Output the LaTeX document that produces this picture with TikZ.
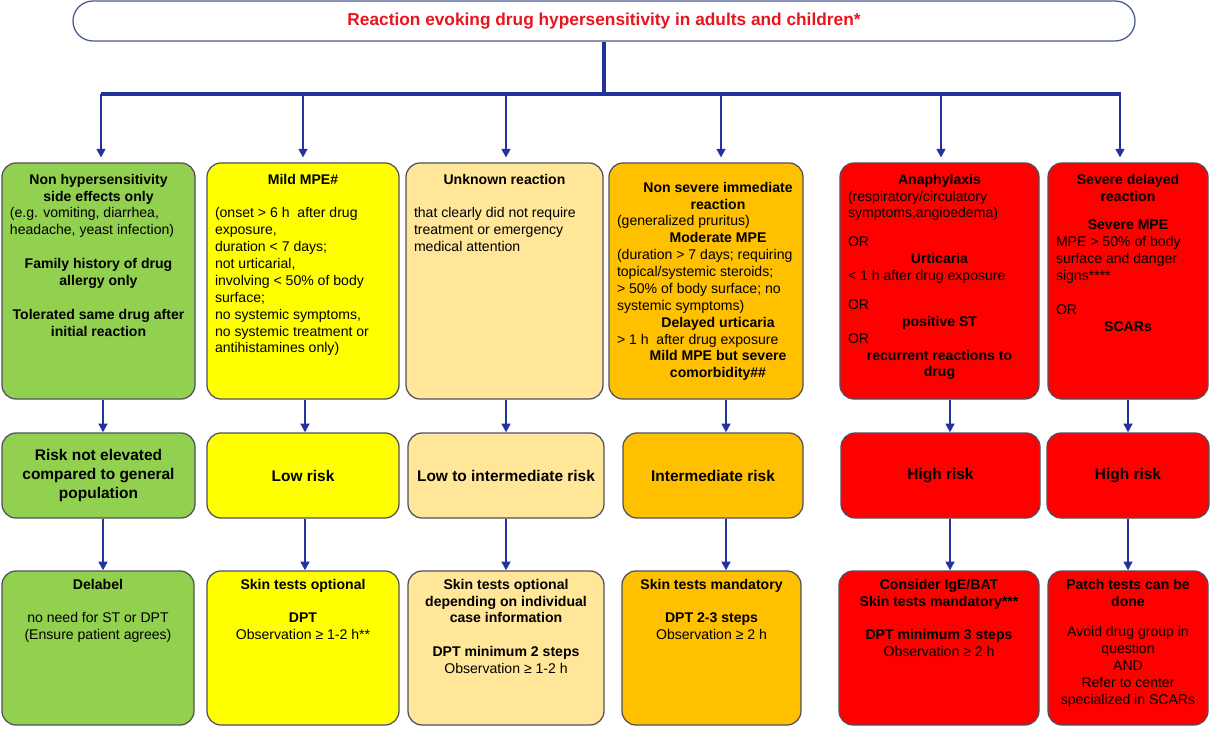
\documentclass[tikz,border=0pt]{standalone}
\usepackage{fontspec}
\setmainfont{Liberation Sans}
\usetikzlibrary{arrows.meta}

\definecolor{grn}{HTML}{92D050}
\definecolor{ylw}{HTML}{FFFF00}
\definecolor{sand}{HTML}{FFE699}
\definecolor{amber}{HTML}{FFC000}
\definecolor{alarm}{HTML}{FF0000}
\definecolor{navy}{HTML}{2233A0}
\definecolor{edge}{HTML}{505060}
\definecolor{titleedge}{HTML}{4A5A90}
\definecolor{titlered}{HTML}{E8141E}

\newcommand{\ctrpar}[2][0pt]{{\centering\leftskip=#1 plus 1fil\relax #2\par}}
\newcommand{\lftpar}[1]{{\raggedright #1\par}}

\begin{document}
\begin{tikzpicture}[
  x=0.25mm, y=-0.25mm,
  >={Triangle[width=2.2mm,length=2.2mm]},
  cell/.style={draw=edge, line width=0.9pt, rounded corners=3.5mm},
  toptext/.style 2 args={inner xsep=2mm, inner ysep=2.75mm,
    execute at begin node={\begin{minipage}[c][#2][t]{#1}\fontsize{10}{12}\selectfont},
    execute at end node={\end{minipage}}},
  lowtext/.style 2 args={toptext={#1}{#2}, inner ysep=2mm},
  risk/.style={cell, align=center, minimum height=21.25mm, inner sep=1mm,
    font=\fontsize{11}{13.3}\selectfont\bfseries},
  headline/.style={draw=titleedge, line width=0.9pt, rounded corners=5mm,
    minimum width=265.5mm, minimum height=10mm, text=titlered,
    font=\fontsize{12.3}{14}\selectfont\bfseries},
  arr/.style={->, draw=navy, line width=0.7mm},
  bus/.style={draw=navy, line width=0.85mm},
]
  \useasboundingbox (0,0) rectangle (1212,729);

  % ===== Title =====
  \node[headline] (title) at (604,21)
    {Reaction evoking drug hypersensitivity in adults and children*};

  % ===== Row 1: reaction type =====
  \node[cell, fill=grn, toptext={44.25mm}{53.5mm}] (r1c1) at (98.5,281) {%
    \ctrpar{\bfseries Non hypersensitivity\\side effects only}
    \lftpar{(e.g. vomiting, diarrhea,\\headache, yeast infection)}
    \vspace{\baselineskip}
    \ctrpar{\bfseries Family history of drug\\allergy only}
    \vspace{\baselineskip}
    \ctrpar{\bfseries Tolerated same drug after\\initial reaction}};
  \node[cell, fill=ylw, toptext={44mm}{53.5mm}] (r1c2) at (303,281) {%
    \ctrpar{\bfseries Mild MPE\#}
    \vspace{\baselineskip}
    \lftpar{(onset > 6 h~ after drug\\exposure,\\duration < 7 days;\\not urticarial,\\involving < 50\% of body\\surface;\\no systemic symptoms,\\no systemic treatment or\\antihistamines only)}};
  \node[cell, fill=sand, toptext={45.25mm}{53.5mm}] (r1c3) at (504.5,281) {%
    \ctrpar{\bfseries Unknown reaction}
    \vspace{\baselineskip}
    \lftpar{that clearly did not require\\treatment or emergency\\medical attention}};
  \node[cell, fill=amber, toptext={44.5mm}{53.5mm}] (r1c4) at (706,281) {%
    \vspace*{2mm}
    \ctrpar[6mm]{\bfseries Non severe immediate\\reaction}
    \lftpar{(generalized pruritus)}
    \ctrpar[6mm]{\bfseries Moderate MPE}
    \lftpar{(duration > 7 days; requiring\\topical/systemic steroids;\\> 50\% of body surface; no\\systemic symptoms)}
    \ctrpar[6mm]{\bfseries Delayed urticaria}
    \lftpar{> 1 h~ after drug exposure}
    \ctrpar[6mm]{\bfseries Mild MPE but severe\\comorbidity\#\#}};
  \node[cell, fill=alarm, toptext={45.75mm}{53.5mm}] (r1c5) at (939.5,281) {%
    \ctrpar{\bfseries Anaphylaxis}
    \lftpar{(respiratory/circulatory\\symptoms,angioedema)}
    \vspace{3mm}
    \lftpar{OR}
    \ctrpar{\bfseries Urticaria}
    \lftpar{< 1 h after drug exposure}
    \vspace{3mm}
    \lftpar{OR}
    \ctrpar{\bfseries positive ST}
    \lftpar{OR}
    \ctrpar{\bfseries recurrent reactions to\\drug}};
  \node[cell, fill=alarm, toptext={36mm}{53.5mm}] (r1c6) at (1128,281) {%
    \ctrpar{\bfseries Severe delayed\\reaction}
    \vspace{3mm}
    \ctrpar{\bfseries Severe MPE}
    \lftpar{MPE > 50\% of body\\surface and danger\\signs****}
    \vspace{\baselineskip}
    \lftpar{OR}
    \ctrpar{\bfseries SCARs}};

  % ===== Row 2: risk level =====
  \node[risk, fill=grn, minimum width=48.25mm] (r2c1) at (98.5,475.5)
    {Risk not elevated\\compared to general\\population};
  \node[risk, fill=ylw, minimum width=48mm] (r2c2) at (303,475.5) {Low risk};
  \node[risk, fill=sand, minimum width=49mm] (r2c3) at (506,475.5) {Low to intermediate risk};
  \node[risk, fill=amber, minimum width=45mm] (r2c4) at (713,475.5) {Intermediate risk};
  \node[risk, fill=alarm, minimum width=49.75mm] (r2c5) at (940.5,475.5) {High risk};
  \node[risk, fill=alarm, minimum width=40.5mm] (r2c6) at (1128,475.5) {High risk};

  % ===== Row 3: work-up =====
  \node[cell, fill=grn, lowtext={44mm}{34.5mm}] (r3c1) at (98,648) {%
    \ctrpar{\bfseries Delabel}
    \vspace{\baselineskip}
    \ctrpar{no need for ST or DPT\\(Ensure patient agrees)}};
  \node[cell, fill=ylw, lowtext={44mm}{34.5mm}] (r3c2) at (303,648) {%
    \ctrpar{\bfseries Skin tests optional}
    \vspace{\baselineskip}
    \ctrpar{\textbf{DPT}\\Observation ≥ 1-2 h**}};
  \node[cell, fill=sand, lowtext={45mm}{34.5mm}] (r3c3) at (506,648) {%
    \ctrpar{\bfseries Skin tests optional\\depending on individual\\case information}
    \vspace{\baselineskip}
    \ctrpar{\textbf{DPT minimum 2 steps}\\Observation ≥ 1-2 h}};
  \node[cell, fill=amber, lowtext={40.75mm}{34.5mm}] (r3c4) at (711.5,648) {%
    \ctrpar{\bfseries Skin tests mandatory}
    \vspace{\baselineskip}
    \ctrpar{\textbf{DPT 2-3 steps}\\Observation ≥ 2 h}};
  \node[cell, fill=alarm, lowtext={46mm}{34.5mm}] (r3c5) at (939,648) {%
    \ctrpar{\bfseries Consider IgE/BAT\\Skin tests mandatory***}
    \vspace{\baselineskip}
    \ctrpar{\textbf{DPT minimum 3 steps}\\Observation ≥ 2 h}};
  \node[cell, fill=alarm, lowtext={36mm}{34.5mm}] (r3c6) at (1128,648) {%
    \ctrpar{\bfseries Patch tests can be\\done}
    \vspace{3.5mm}
    \ctrpar{Avoid drug group in\\question\\AND\\Refer to center\\specialized in SCARs}};

  % ===== Connectors =====
  \coordinate (hub) at (604,94);
  \coordinate (busL) at (101,94);
  \coordinate (busR) at (1121,94);
  \draw[bus] (title.south) -- (hub);
  \draw[bus] (busL) -- (busR);
  \foreach \i/\x in {1/101,2/303,3/506,4/721,5/941,6/1120}{
    \coordinate (t\i) at (\x,94);
    \draw[arr, shorten >=1.2mm] (t\i) -- (t\i |- r1c\i.north);
  }
  \foreach \i/\x in {1/103,2/305,3/506,4/726,5/950,6/1128}{
    \coordinate (c\i) at (\x,0);
    \draw[arr] (r1c\i.south -| c\i) -- (r2c\i.north -| c\i);
    \draw[arr] (r2c\i.south -| c\i) -- (r3c\i.north -| c\i);
  }
\end{tikzpicture}
\end{document}
